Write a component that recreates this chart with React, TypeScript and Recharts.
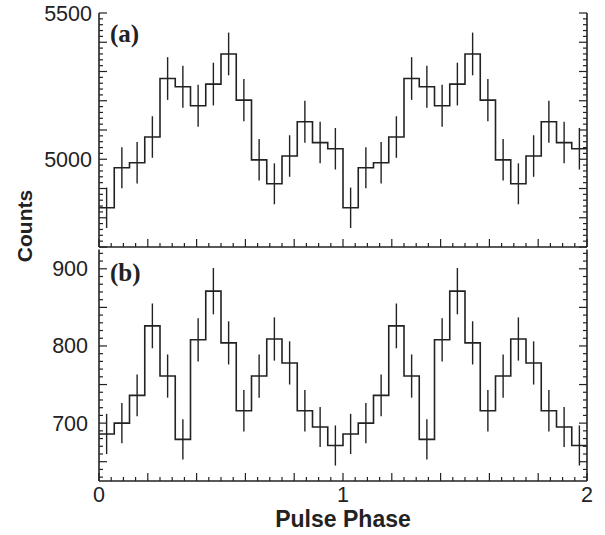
import React from 'react';
import { ComposedChart, Line, XAxis, YAxis, ErrorBar } from 'recharts';

// one pulse cycle, 16 phase bins; the profile is plotted twice (phase 0-2)
const BINS_PER_CYCLE = 16;
const cycleA = [4834, 4971, 4988, 5076, 5276, 5248, 5183, 5257, 5360, 5202, 4998, 4916, 5011, 5128, 5057, 5036];
const errCycleA = [69, 70, 71, 71, 73, 72, 72, 73, 73, 72, 71, 70, 71, 72, 71, 71];
const cycleB = [686, 700, 736, 826, 761, 679, 808, 871, 804, 716, 761, 809, 778, 716, 695, 671];
const errCycleB = [26, 26, 27, 29, 28, 26, 28, 30, 28, 27, 28, 28, 28, 27, 26, 26];

const countsA = [...cycleA, ...cycleA];
const errA = [...errCycleA, ...errCycleA];
const countsB = [...cycleB, ...cycleB];
const errB = [...errCycleB, ...errCycleB];

const X_TICKS = Array.from({ length: 41 }, (_, i) => i / 20);
const X_LABELS = [0, 1, 2];
const Y_TICKS_A = Array.from({ length: 41 }, (_, i) => 4700 + i * 20);
const Y_LABELS_A = [5000, 5500];
const Y_TICKS_B = Array.from({ length: 30 }, (_, i) => 630 + i * 10);
const Y_LABELS_B = [700, 800, 900];

const INK = '#222';
const SANS = '"Liberation Sans", Arial, sans-serif';

const isMultiple = (v: number, step: number) => Math.abs(v / step - Math.round(v / step)) < 1e-6;

// step line needs a point at every bin edge plus the closing edge
const toSteps = (counts: number[]) => {
  const pts = counts.map((v, i) => ({ x: i / BINS_PER_CYCLE, v }));
  pts.push({ x: counts.length / BINS_PER_CYCLE, v: counts[counts.length - 1] });
  return pts;
};
const toCenters = (counts: number[], errs: number[]) =>
  counts.map((v, i) => ({ x: (i + 0.5) / BINS_PER_CYCLE, v, err: errs[i] }));

const XTick = (props: any) => {
  const { x, y, payload, dir, showLabels } = props;
  const v = payload.value;
  const len = isMultiple(v, 0.2) ? 8 : 4;
  const lbl = showLabels && X_LABELS.some((l) => Math.abs(l - v) < 1e-6);
  return (
    <g>
      <line x1={x} y1={y} x2={x} y2={y + dir * len} stroke={INK} strokeWidth={1.2} />
      {lbl && (
        <text x={x} y={y + 21} textAnchor="middle" fontFamily={SANS} fontSize={21.5} fill={INK}>
          {v}
        </text>
      )}
    </g>
  );
};

const YTick = (props: any) => {
  const { x, y, payload, dir, major, labels, gap } = props;
  const v = payload.value;
  const len = isMultiple(v, major) ? 8 : 4;
  const lbl = labels && labels.includes(v);
  return (
    <g>
      <line x1={x} y1={y} x2={x + dir * len} y2={y} stroke={INK} strokeWidth={1.2} />
      {lbl && (
        <text x={x - gap} y={y + 7.5} textAnchor="end" fontFamily={SANS} fontSize={21.5} fill={INK}>
          {v}
        </text>
      )}
    </g>
  );
};

const Panel = ({
  top, height, marginTop, bottomH, counts, errs, domain, yTicks, major, yLabels, gap, showX,
}: any) => {
  const axisLine = { stroke: INK, strokeWidth: 1.6 };
  return (
    <div style={{ position: 'absolute', left: 0, top }}>
      <ComposedChart width={605} height={height} margin={{ top: marginTop, right: 0, bottom: 0, left: 0 }}>
        <XAxis
          xAxisId="b" type="number" dataKey="x" domain={[0, 2]} ticks={X_TICKS} interval={0}
          allowDataOverflow height={bottomH} tickLine={false} tickSize={0} tickMargin={0} axisLine={axisLine}
          tick={(p: any) => <XTick {...p} dir={-1} showLabels={showX} />}
        />
        <XAxis
          xAxisId="t" orientation="top" type="number" dataKey="x" domain={[0, 2]} ticks={X_TICKS} interval={0}
          allowDataOverflow height={0} tickLine={false} tickSize={0} tickMargin={0} axisLine={axisLine}
          tick={(p: any) => <XTick {...p} dir={1} showLabels={false} />}
        />
        <YAxis
          yAxisId="l" type="number" domain={domain} ticks={yTicks} interval={0} allowDataOverflow width={99}
          tickLine={false} tickSize={0} tickMargin={0} axisLine={axisLine}
          tick={(p: any) => <YTick {...p} dir={1} major={major} labels={yLabels} gap={gap} />}
        />
        <YAxis
          yAxisId="r" orientation="right" type="number" domain={domain} ticks={yTicks} interval={0} allowDataOverflow
          width={18} tickLine={false} tickSize={0} tickMargin={0} axisLine={axisLine}
          tick={(p: any) => <YTick {...p} dir={-1} major={major} labels={null} gap={0} />}
        />
        <Line
          xAxisId="b" yAxisId="l" data={toSteps(counts)} dataKey="v" type="stepAfter"
          stroke={INK} strokeWidth={1.6} dot={false} activeDot={false} isAnimationActive={false}
        />
        <Line
          xAxisId="b" yAxisId="l" data={toCenters(counts, errs)} dataKey="v" stroke="transparent"
          strokeWidth={0} dot={false} activeDot={false} isAnimationActive={false}
        >
          <ErrorBar dataKey="err" direction="y" width={0} stroke={INK} strokeWidth={1.4} />
        </Line>
      </ComposedChart>
    </div>
  );
};

const panelLabel: React.CSSProperties = {
  position: 'absolute',
  fontFamily: '"Liberation Serif", "Times New Roman", serif',
  fontWeight: 'bold',
  fontSize: 25,
  color: INK,
  lineHeight: 1,
};

export default function App() {
  return (
    <div style={{ position: 'fixed', left: 0, top: 0, width: 605, height: 535, background: '#fff' }}>
      <Panel
        top={0} height={260} marginTop={13} bottomH={13} counts={countsA} errs={errA}
        domain={[4700, 5500]} yTicks={Y_TICKS_A} major={100} yLabels={Y_LABELS_A} gap={7} showX={false}
      />
      <Panel
        top={240} height={295} marginTop={9.5} bottomH={54} counts={countsB} errs={errB}
        domain={[625, 925]} yTicks={Y_TICKS_B} major={50} yLabels={Y_LABELS_B} gap={11} showX
      />
      <div style={{ ...panelLabel, left: 110, top: 21 }}>(a)</div>
      <div style={{ ...panelLabel, left: 110, top: 260 }}>(b)</div>
      <div
        style={{
          position: 'absolute', left: 25, top: 226, transform: 'translate(-50%, -50%) rotate(-90deg)',
          fontFamily: SANS, fontWeight: 'bold', fontSize: 21, color: INK, whiteSpace: 'nowrap',
        }}
      >
        Counts
      </div>
      <div
        style={{
          position: 'absolute', left: 343, top: 508, transform: 'translateX(-50%)',
          fontFamily: SANS, fontWeight: 'bold', fontSize: 23, color: INK, whiteSpace: 'nowrap', lineHeight: 1,
        }}
      >
        Pulse Phase
      </div>
    </div>
  );
}
